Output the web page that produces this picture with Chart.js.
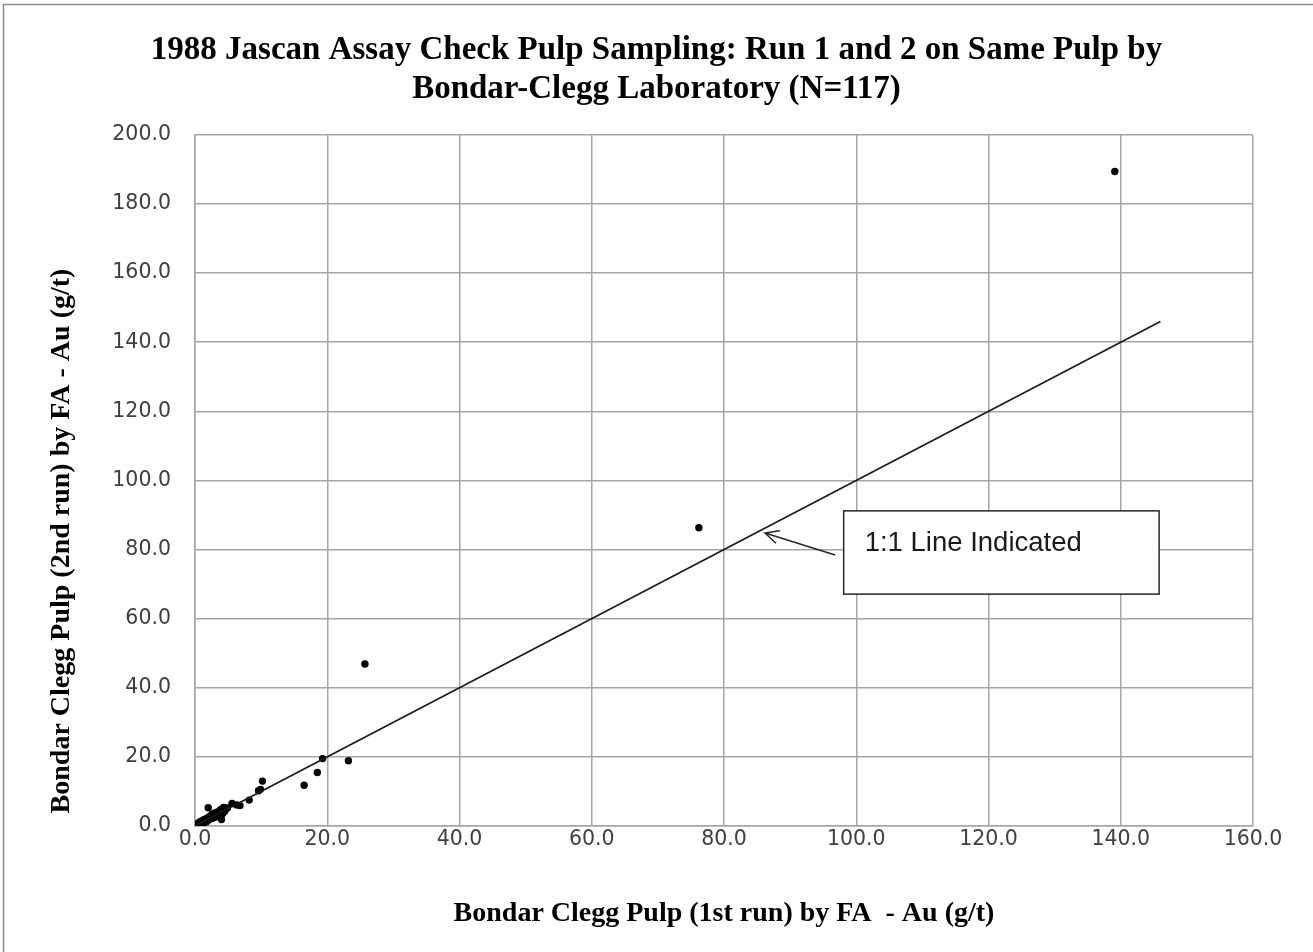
<!DOCTYPE html>
<html>
<head>
<meta charset="utf-8">
<script src="https://cdn.jsdelivr.net/npm/chart.js@4.4.1/dist/chart.umd.min.js"></script>
<style>
  body { margin: 0; background: #fff; }
  #wrap { position: relative; width: 1313px; height: 952px; }
</style>
</head>
<body>
<div id="wrap"><canvas id="assayChart" width="1313" height="952"></canvas></div>
<script>
// --- Data ---
const run1Values = [
  139.1, 76.2, 25.7, 23.2, 19.3, 18.5, 16.5, 10.2, 9.9, 9.6,
  8.2, 6.8, 6.3, 5.6, 4.9, 4.5, 4.3, 4.0, 4.2, 3.9,
  3.6, 3.4, 3.1, 2.9, 2.7, 2.5, 2.3, 2.0, 2.1, 1.9,
  1.8, 1.7, 1.6, 1.5, 1.4, 1.3, 1.2, 1.1, 1.0, 0.95,
  0.9, 0.85, 0.8, 0.75, 0.7, 0.65, 0.6, 0.58, 0.55, 0.5,
  0.48, 0.45, 0.42, 0.4, 0.38, 0.35, 0.33, 0.3, 0.28, 0.26,
  0.25, 0.23, 0.22, 0.2, 0.19, 0.18, 0.17, 0.16, 0.15, 0.14,
  0.13, 0.12, 0.11, 0.1, 0.1, 0.09, 0.08, 0.08, 0.07, 0.07,
  0.06, 0.06, 0.05, 0.05, 0.04, 0.04, 0.03, 0.03, 0.02, 0.02,
  0.01, 0.01, 3.8, 3.3, 2.8, 2.6, 2.4, 2.2, 1.95, 1.75,
  1.55, 1.45, 1.25, 1.15, 1.05, 0.98, 0.88, 0.78, 0.68, 0.62,
  0.52, 0.46, 0.36, 0.31, 0.27, 0.21, 0.15
];
const run2Values = [
  189.4, 86.3, 46.9, 18.9, 19.5, 15.5, 11.8, 13.0, 10.6, 10.2,
  7.5, 5.9, 6.1, 6.5, 5.2, 4.3, 5.4, 1.9, 3.6, 4.8,
  3.3, 4.1, 2.6, 3.7, 3.1, 2.2, 2.9, 5.3, 1.8, 2.4,
  1.3, 2.0, 1.6, 1.1, 1.9, 1.4, 0.9, 1.5, 1.2, 0.7,
  1.0, 1.3, 0.8, 0.6, 0.9, 1.1, 0.5, 0.7, 0.8, 0.4,
  0.6, 0.5, 0.7, 0.3, 0.45, 0.4, 0.5, 0.25, 0.35, 0.3,
  0.4, 0.2, 0.28, 0.22, 0.15, 0.25, 0.18, 0.12, 0.2, 0.16,
  0.1, 0.14, 0.09, 0.12, 0.08, 0.1, 0.07, 0.11, 0.06, 0.09,
  0.05, 0.08, 0.04, 0.06, 0.05, 0.03, 0.04, 0.02, 0.03, 0.02,
  0.01, 0.02, 3.2, 3.9, 2.4, 3.4, 2.7, 2.0, 2.2, 1.5,
  1.9, 1.3, 1.1, 1.35, 0.85, 1.1, 0.75, 0.95, 0.7, 0.55,
  0.65, 0.38, 0.3, 0.36, 0.22, 0.18, 0.13
];
const oneToOneX = [0, 146];
const oneToOneY = [0, 146];
const xTicks = [0, 20, 40, 60, 80, 100, 120, 140, 160];
const yTicks = [0, 20, 40, 60, 80, 100, 120, 140, 160, 180, 200];

const titleLines = [
  '1988 Jascan Assay Check Pulp Sampling: Run 1 and 2 on Same Pulp by',
  'Bondar-Clegg Laboratory (N=117)'
];
const xTitle = 'Bondar Clegg Pulp (1st run) by FA  - Au (g/t)';
const yTitle = 'Bondar Clegg Pulp (2nd run) by FA - Au (g/t)';
const noteText = '1:1 Line Indicated';

// --- Build datasets ---
const samplePoints = run1Values.map((x, i) => ({ x: x, y: run2Values[i] }));
const linePoints = oneToOneX.map((x, i) => ({ x: x, y: oneToOneY[i] }));

const gridGray = '#a6a6a6';
const serifFont = '"Liberation Serif", "Times New Roman", serif';
const tickFont = { family: '"DejaVu Sans", Verdana, sans-serif', size: 20.5 };

// frame, y-axis title, callout box with arrow
const decorPlugin = {
  id: 'decor',
  beforeDraw(chart) {
    const ctx = chart.ctx;
    ctx.save();
    ctx.strokeStyle = '#8c8c8c';
    ctx.lineWidth = 1.5;
    ctx.strokeRect(3.5, 4.5, 1320, 960);
    ctx.restore();
  },
  afterDraw(chart) {
    // y title sits a bit below the plot centre in the original
    const ctx = chart.ctx;
    ctx.save();
    ctx.translate(62, 541);
    ctx.rotate(-Math.PI / 2);
    ctx.fillStyle = '#000';
    ctx.font = 'bold 28px ' + serifFont;
    ctx.textAlign = 'center';
    ctx.textBaseline = 'middle';
    ctx.fillText(yTitle, 0, 0);
    ctx.restore();
  },
  afterDatasetsDraw(chart) {
    const ctx = chart.ctx;
    const xs = chart.scales.x, ys = chart.scales.y;
    const bx1 = xs.getPixelForValue(98.1), bx2 = xs.getPixelForValue(145.8);
    const by1 = ys.getPixelForValue(91.2), by2 = ys.getPixelForValue(67.1);
    ctx.save();
    ctx.fillStyle = '#fff';
    ctx.fillRect(bx1, by1, bx2 - bx1, by2 - by1);
    ctx.strokeStyle = '#262626';
    ctx.lineWidth = 1.5;
    ctx.strokeRect(bx1, by1, bx2 - bx1, by2 - by1);
    ctx.fillStyle = '#1a1a1a';
    ctx.font = '27.5px "Liberation Sans", Arial, sans-serif';
    ctx.textBaseline = 'middle';
    ctx.fillText(noteText, bx1 + 21, by1 + 33);

    // arrow
    const tx = xs.getPixelForValue(86.2), ty = ys.getPixelForValue(84.8);
    const sx = xs.getPixelForValue(96.8), sy = ys.getPixelForValue(78.4);
    const ang = Math.atan2(sy - ty, sx - tx);
    ctx.strokeStyle = '#262626';
    ctx.lineWidth = 1.5;
    ctx.beginPath();
    ctx.moveTo(sx, sy);
    ctx.lineTo(tx, ty);
    ctx.moveTo(tx + 15 * Math.cos(ang - 0.45), ty + 15 * Math.sin(ang - 0.45));
    ctx.lineTo(tx, ty);
    ctx.lineTo(tx + 15 * Math.cos(ang + 0.45), ty + 15 * Math.sin(ang + 0.45));
    ctx.stroke();
    ctx.restore();
  }
};

new Chart(document.getElementById('assayChart'), {
  type: 'scatter',
  data: {
    datasets: [
      {
        label: '1:1',
        data: linePoints,
        showLine: true,
        borderColor: '#1a1a1a',
        borderWidth: 1.6,
        pointRadius: 0,
        fill: false
      },
      {
        label: 'Run 1 vs Run 2',
        data: samplePoints,
        backgroundColor: '#000',
        borderColor: '#000',
        pointRadius: 3.7,
        pointBorderWidth: 0
      }
    ]
  },
  options: {
    responsive: false,
    animation: false,
    layout: { padding: 0 },
    plugins: {
      legend: { display: false },
      tooltip: { enabled: false },
      title: {
        display: true,
        text: titleLines,
        color: '#000',
        font: { family: serifFont, size: 33, weight: 'bold', lineHeight: 1.18 },
        padding: { top: 31, bottom: 26 }
      }
    },
    scales: {
      x: {
        type: 'linear',
        min: 0,
        max: 160,
        afterBuildTicks: (scale) => { scale.ticks = xTicks.map(v => ({ value: v })); },
        afterFit: (scale) => { scale.height = 126; },
        ticks: {
          callback: (v) => Number(v).toFixed(1),
          color: '#404040',
          font: tickFont,
          padding: 1,
          maxRotation: 0
        },
        grid: { color: gridGray, lineWidth: 1.5, drawTicks: false },
        border: { color: gridGray, width: 1.5 },
        title: {
          display: true,
          text: xTitle,
          color: '#000',
          font: { family: serifFont, size: 28, weight: 'bold', lineHeight: 1.2 },
          padding: { top: 0, bottom: 21 }
        }
      },
      y: {
        type: 'linear',
        min: 0,
        max: 200,
        afterBuildTicks: (scale) => { scale.ticks = yTicks.map(v => ({ value: v })); },
        afterFit: (scale) => { scale.width = 195; },
        ticks: {
          callback: (v) => Number(v).toFixed(1),
          color: '#404040',
          font: tickFont,
          padding: 24
        },
        grid: { color: gridGray, lineWidth: 1.5, drawTicks: false },
        border: { color: gridGray, width: 1.5 },
        title: { display: false }
      },
      // empty right-hand margin so the title centres on the full width
      yMargin: {
        type: 'linear',
        position: 'right',
        min: 0,
        max: 200,
        afterFit: (scale) => { scale.width = 60; },
        ticks: { display: false },
        grid: { display: false, drawOnChartArea: false },
        border: { display: false },
        title: { display: false }
      }
    }
  },
  plugins: [decorPlugin]
});
</script>
</body>
</html>
